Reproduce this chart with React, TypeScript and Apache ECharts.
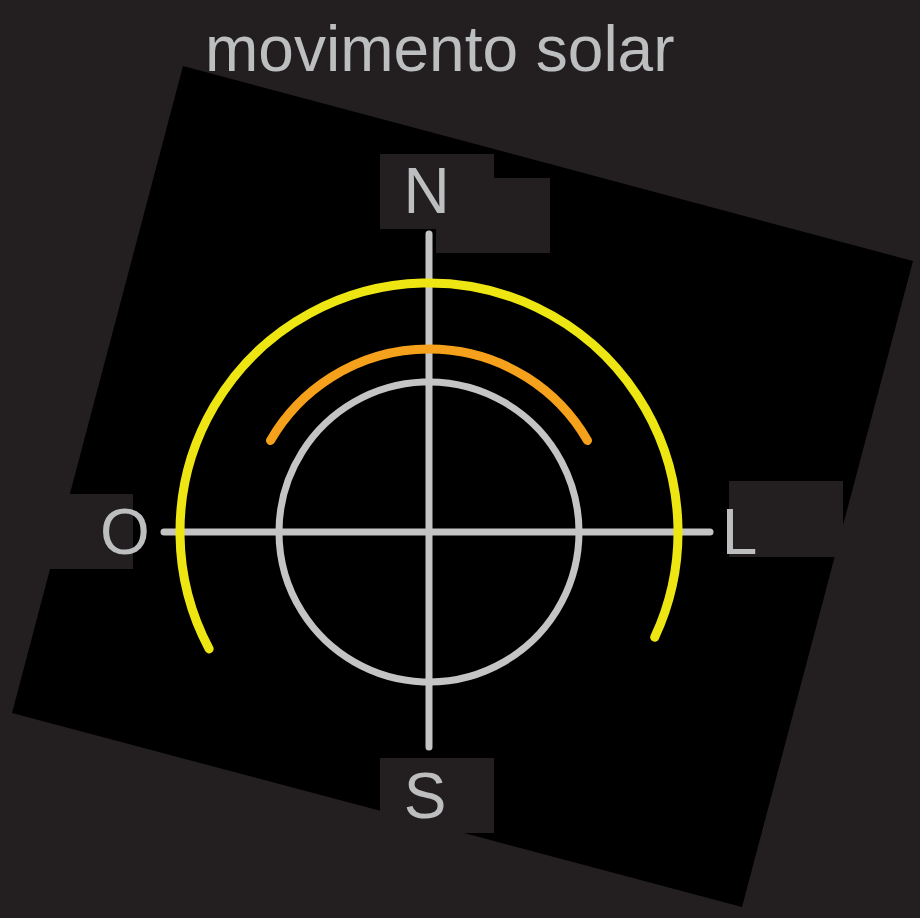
import React, { useEffect, useRef } from "react";
import * as echarts from "echarts";

// Compass labels and their positions (data units, centre of compass = 0,0)
const compassLabels = ["N", "O", "L", "S"];
const labelX = [-2.5, -304, 310.5, -4];
const labelY = [341, 0, 0, -264];

// Compass cross lines (data units)
const horizontalLine = [[-265, 0], [281, 0]];
const verticalLine = [[0, 298], [0, -215]];

// Arcs: radius and angular extent (degrees, counter-clockwise from east)
const arcNames = ["horizonte", "inverno", "verão"];
const arcRadius = [150, 183, 249];
const arcStart = [0, 30, -25];
const arcEnd = [360, 150, 208];

const BG = "#231f20";
const TEXT = "#bcbec0";
const GRAY = "#c4c4c4";
const arcColors = [GRAY, "#f6a11b", "#ede613"];
const arcWidths = [7, 9, 9];

export default function App() {
  const ref = useRef<HTMLDivElement>(null);
  useEffect(() => {
    if (!ref.current) return;
    const chart = echarts.init(ref.current, undefined, { renderer: "svg" });
    const font = "'Liberation Sans', Arial, Helvetica, sans-serif";
    chart.setOption({
      animation: false,
      backgroundColor: BG,
      title: {
        text: "movimento solar",
        left: 205,
        top: 17,
        padding: 0,
        textStyle: { color: TEXT, fontSize: 64, fontWeight: "normal", fontFamily: font },
      },
      grid: { left: 79, top: 182, width: 700, height: 700 },
      xAxis: { type: "value", min: -350, max: 350, show: false },
      yAxis: { type: "value", min: -350, max: 350, show: false },
      graphic: {
        elements: [
          {
            type: "polygon",
            z: -10,
            silent: true,
            shape: { points: [[183, 66], [913, 261], [742, 907], [12, 713]] },
            style: { fill: "#000000" },
          },
          { type: "rect", z: -5, silent: true, shape: { x: 380, y: 154, width: 114, height: 75 }, style: { fill: BG } },
          { type: "rect", z: -5, silent: true, shape: { x: 436, y: 178, width: 114, height: 75 }, style: { fill: BG } },
          { type: "rect", z: -5, silent: true, shape: { x: 19, y: 494, width: 114, height: 75 }, style: { fill: BG } },
          { type: "rect", z: -5, silent: true, shape: { x: 729, y: 481, width: 114, height: 76 }, style: { fill: BG } },
          { type: "rect", z: -5, silent: true, shape: { x: 380, y: 758, width: 114, height: 75 }, style: { fill: BG } },
        ],
      },
      series: [
        {
          type: "line",
          data: horizontalLine,
          symbol: "none",
          lineStyle: { color: GRAY, width: 7, cap: "round" },
          silent: true,
          z: 3,
        },
        {
          type: "line",
          data: verticalLine,
          symbol: "none",
          lineStyle: { color: GRAY, width: 7, cap: "round" },
          silent: true,
          z: 3,
        },
        {
          type: "custom",
          z: 4,
          silent: true,
          clip: false,
          data: arcNames.map((n, i) => ({ name: n, value: [arcRadius[i], arcStart[i], arcEnd[i]] })),
          renderItem: (params: any, api: any) => {
            const r = api.value(0);
            const s = api.value(1);
            const e = api.value(2);
            const c = api.coord([0, 0]);
            const rp = api.size([r, 0])[0];
            const i = params.dataIndex;
            return {
              type: "arc",
              shape: {
                cx: c[0],
                cy: c[1],
                r: rp,
                startAngle: (-e * Math.PI) / 180,
                endAngle: (-s * Math.PI) / 180,
                clockwise: true,
              },
              style: { stroke: arcColors[i], lineWidth: arcWidths[i], fill: "none", lineCap: "round" },
            };
          },
        },
        {
          type: "scatter",
          z: 5,
          clip: false,
          symbolSize: 0,
          silent: true,
          itemStyle: { color: TEXT, opacity: 1 },
          data: compassLabels.map((n, i) => ({ name: n, value: [labelX[i], labelY[i]] })),
          label: {
            show: true,
            position: "inside",
            formatter: "{b}",
            color: TEXT,
            fontSize: 64,
            fontFamily: font,
            textBorderWidth: 0,
            textBorderColor: "transparent",
          },
        },
      ],
    });
    return () => chart.dispose();
  }, []);
  return <div ref={ref} style={{ position: "fixed", left: 0, top: 0, width: 920, height: 918 }} />;
}
